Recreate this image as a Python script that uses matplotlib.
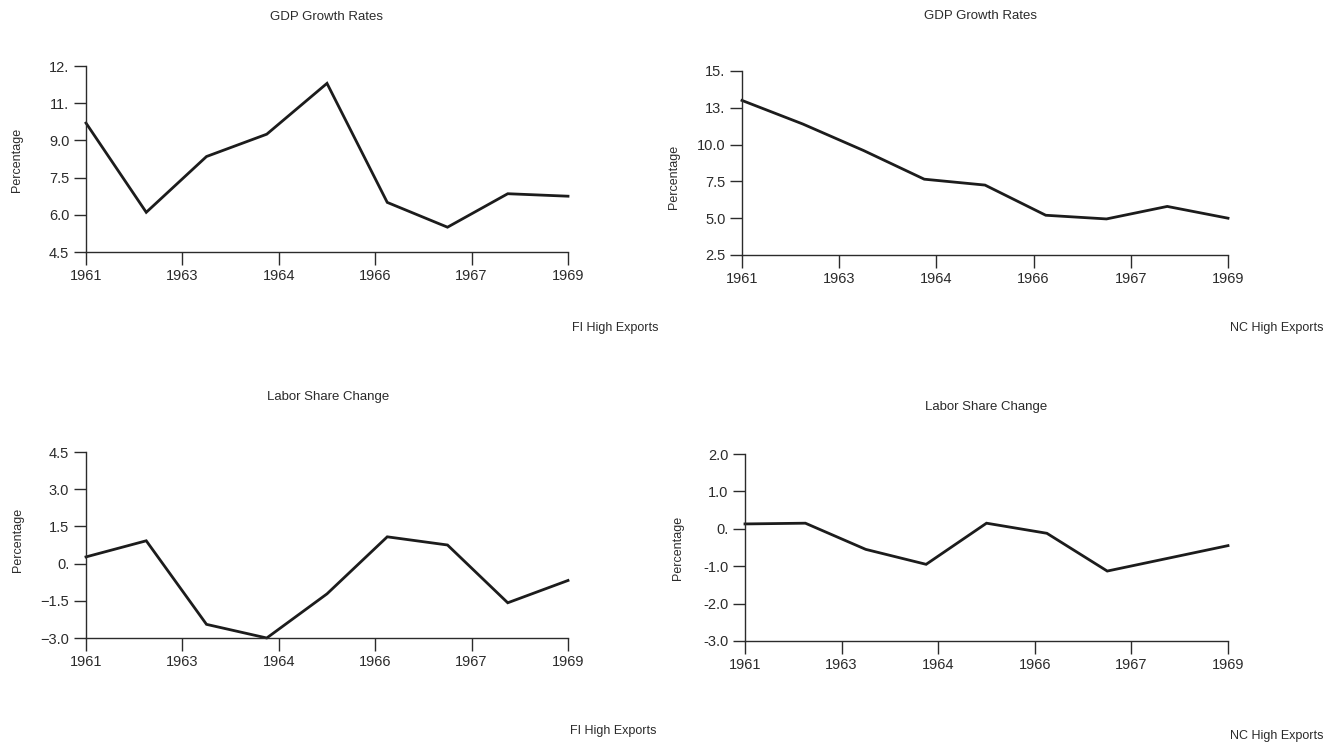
import numpy as np
import matplotlib
matplotlib.use("Agg")
import matplotlib.pyplot as plt

plt.rcParams['font.family'] = ['Liberation Sans', 'DejaVu Sans']

# Years on the x axis and the four series
years = [1961, 1962, 1963, 1964, 1965, 1966, 1967, 1968, 1969]
fi_gdp = [9.7, 6.1, 8.35, 9.25, 11.3, 6.5, 5.5, 6.85, 6.75]
nc_gdp = [13.0, 11.4, 9.6, 7.65, 7.25, 5.2, 4.95, 5.8, 5.0]
fi_labor = [0.27, 0.92, -2.45, -3.0, -1.22, 1.08, 0.75, -1.58, -0.68]
nc_labor = [0.13, 0.15, -0.55, -0.95, 0.15, -0.12, -1.13, -0.79, -0.45]

# Tick values and the (oddly rounded) labels printed on the original
xticks = np.linspace(1961, 1969, 6)
xtick_labels = ['1961', '1963', '1964', '1966', '1967', '1969']
fi_gdp_ticks = [4.5, 6.0, 7.5, 9.0, 10.5, 12.0]
fi_gdp_labels = ['4.5', '6.0', '7.5', '9.0', '11.', '12.']
nc_gdp_ticks = [2.5, 5.0, 7.5, 10.0, 12.5, 15.0]
nc_gdp_labels = ['2.5', '5.0', '7.5', '10.0', '13.', '15.']
fi_labor_ticks = [-3.0, -1.5, 0.0, 1.5, 3.0, 4.5]
fi_labor_labels = ['\u22123.0', '\u22121.5', '0.', '1.5', '3.0', '4.5']
nc_labor_ticks = [-3.0, -2.0, -1.0, 0.0, 1.0, 2.0]
nc_labor_labels = ['-3.0', '-2.0', '-1.0', '0.', '1.0', '2.0']

W, H = 1330, 746
fig = plt.figure(figsize=(W / 100, H / 100), dpi=100)
fig.patch.set_facecolor('white')

ink = '#2b2b2b'


def box(l, t, r, b):
    return [l / W, 1 - b / H, (r - l) / W, (b - t) / H]


def panel(rect, values, yticks, ylabels):
    ax = fig.add_axes(box(*rect))
    ax.plot(years, values, color='#1c1c1c', lw=2.0, clip_on=False,
            solid_joinstyle='miter')
    ax.set_xlim(1961, 1969)
    ax.set_ylim(yticks[0], yticks[-1])
    ax.set_xticks(xticks)
    ax.set_xticklabels(xtick_labels)
    ax.set_yticks(yticks)
    ax.set_yticklabels(ylabels)
    for s in ['top', 'right']:
        ax.spines[s].set_visible(False)
    for s in ['left', 'bottom']:
        ax.spines[s].set_color(ink)
        ax.spines[s].set_linewidth(1.0)
    ax.tick_params(direction='out', length=9, width=1.0, color=ink,
                   labelcolor=ink, labelsize=10.5, pad=3)
    ax.set_facecolor('none')
    return ax


panel((86, 66, 568, 252), fi_gdp, fi_gdp_ticks, fi_gdp_labels)
panel((742, 71, 1228, 255), nc_gdp, nc_gdp_ticks, nc_gdp_labels)
panel((86, 452, 568, 638), fi_labor, fi_labor_ticks, fi_labor_labels)
panel((745, 454, 1228, 641), nc_labor, nc_labor_ticks, nc_labor_labels)


def label(x, y, s, **kw):
    fig.text(x / W, 1 - y / H, s, color=ink, **kw)


# panel titles
label(326, 17, 'GDP Growth Rates', fontsize=9.5, ha='center', va='center')
label(980, 16, 'GDP Growth Rates', fontsize=9.5, ha='center', va='center')
label(328, 397, 'Labor Share Change', fontsize=9.5, ha='center', va='center')
label(986, 407, 'Labor Share Change', fontsize=9.5, ha='center', va='center')

# y labels
for x, y in [(17, 160), (674, 177), (18, 540), (678, 548)]:
    label(x, y, 'Percentage', fontsize=9, rotation=90, ha='center', va='center')

# footnotes
label(658, 328, 'FI High Exports', fontsize=9, ha='right', va='center')
label(1323, 328, 'NC High Exports', fontsize=9, ha='right', va='center')
label(657, 731, 'FI High Exports', fontsize=9, ha='right', va='center')
label(1323, 736, 'NC High Exports', fontsize=9, ha='right', va='center')

fig.savefig('out.png', dpi=100)
